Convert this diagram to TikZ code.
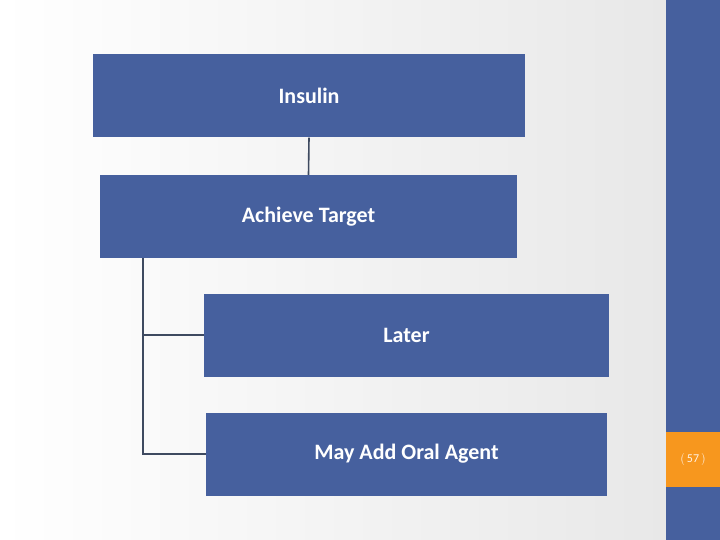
\documentclass[tikz,border=0pt]{standalone}
\usepackage{fontspec}
\setmainfont{Carlito}
\definecolor{boxblue}{HTML}{46609E}
\definecolor{linegray}{HTML}{3E4A60}
\definecolor{pageorange}{HTML}{F7971E}
\begin{document}
\begin{tikzpicture}[x=1pt,y=-1pt]
\tikzstyle{stepbox}=[fill=boxblue,text=white,font=\bfseries\fontsize{22}{26}\selectfont,minimum height=83pt,inner sep=0pt]
\tikzstyle{link}=[draw=linegray,line width=1.6pt]

%% background
\shade[left color=white,right color=gray!18] (0,0) rectangle (666,540);
\useasboundingbox (0,0) rectangle (720,540);
\fill[boxblue] (666,0) rectangle (720,540);
\fill[pageorange] (666,432) rectangle (720,487);
\node[text=white!90!orange,font=\fontsize{12}{14}\selectfont] (pagenum) at (693,459.5) {\(\big(\)\,57\,\(\big)\)};

%% boxes
\node[stepbox,minimum width=432pt] (insulin) at (309,96) {Insulin};
\node[stepbox,minimum width=417pt] (target) at (308.5,216.5) {Achieve Target};
\node[stepbox,minimum width=405pt] (later) at (406.5,335) {Later};
\node[stepbox,minimum width=401pt] (oral) at (406.5,454) {May Add Oral Agent};

%% connectors
\coordinate (corner) at (143,454);
\draw[link] (insulin.south) -- (target.north);
\draw[link] (target.south -| corner) -- (corner) -- (oral.west);
\draw[link] (later.west -| corner) -- (later.west);
\end{tikzpicture}
\end{document}
